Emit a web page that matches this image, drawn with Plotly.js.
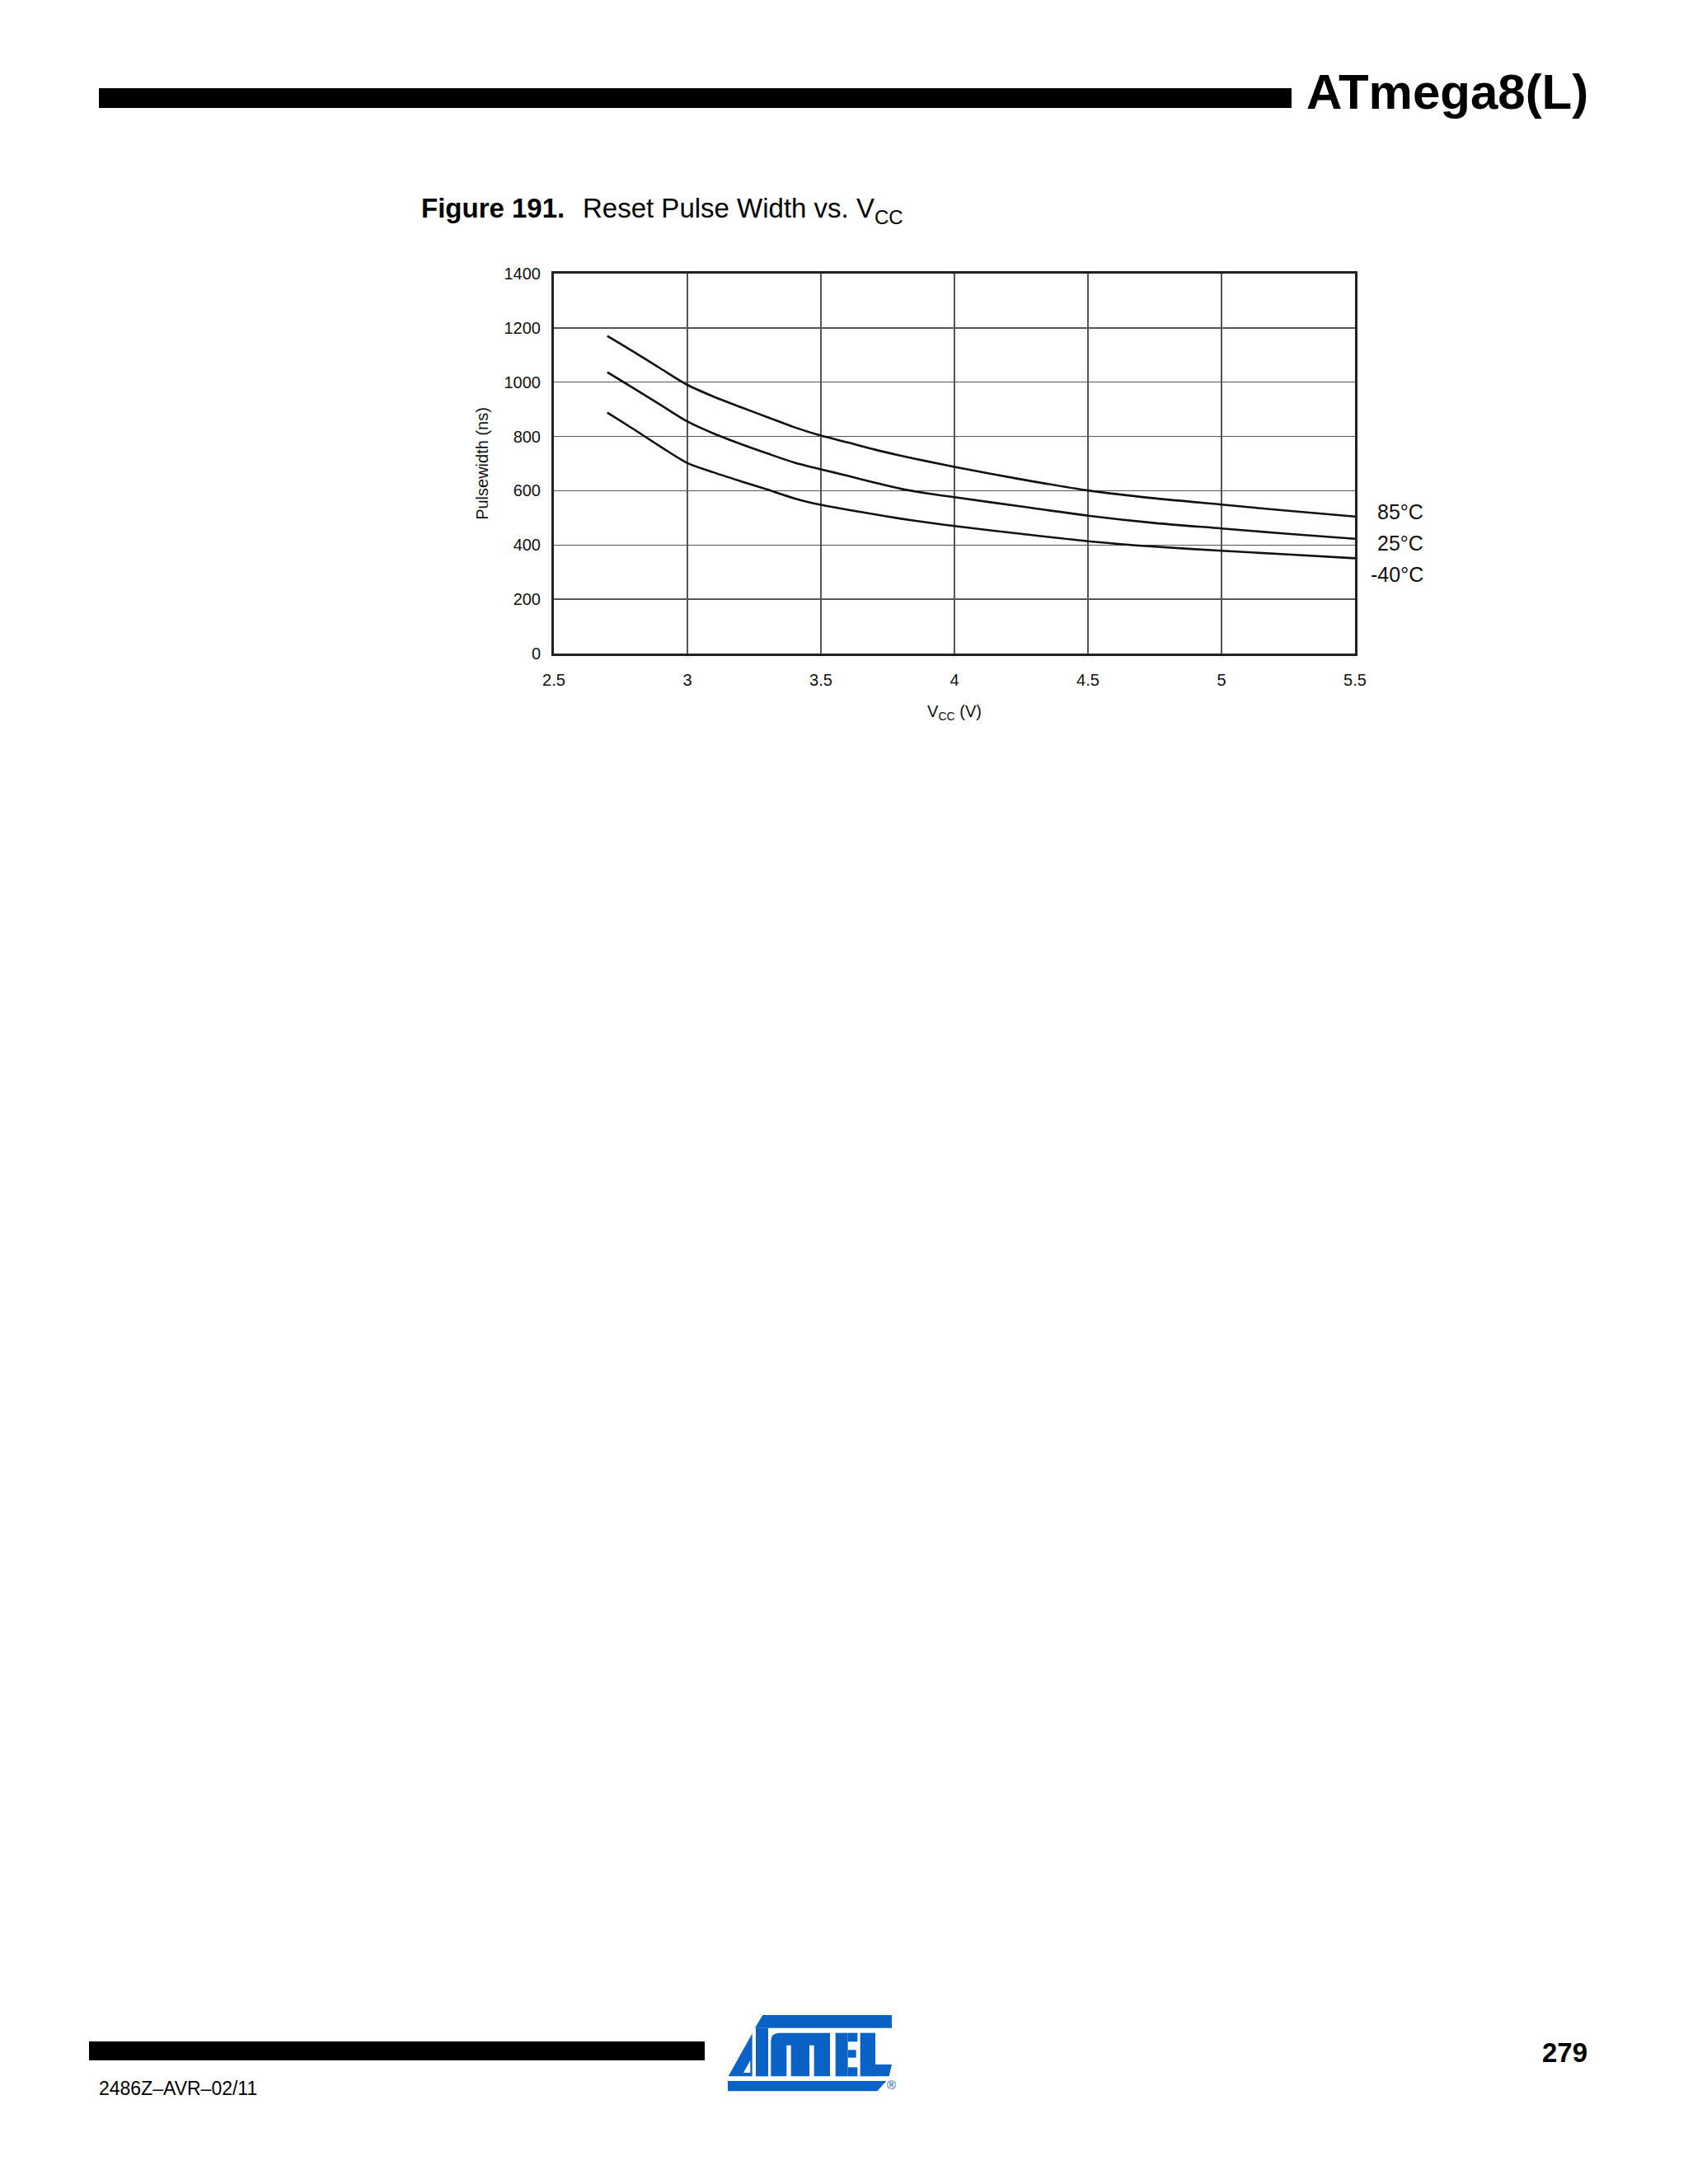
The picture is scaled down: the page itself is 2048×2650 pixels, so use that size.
<!DOCTYPE html>
<html>
<head>
<meta charset="utf-8">
<script src="https://cdn.plot.ly/plotly-3.0.1.min.js"></script>
<style>
  html, body { margin: 0; padding: 0; background: #fff; }
  #page { position: relative; width: 2048px; height: 2650px; overflow: hidden; font-family: "Liberation Sans", Arial, Helvetica, sans-serif; color: #000; }
  #chart { position: absolute; left: 0; top: 0; width: 2048px; height: 2650px; }
  .txt { position: absolute; white-space: nowrap; line-height: 1; }
  .bar { position: absolute; background: #000; }
</style>
</head>
<body>
<div id="page">
  <div id="chart"></div>
  <div class="bar" style="left:120px; top:107px; width:1447px; height:24px;"></div>
  <div class="txt" style="left:1585px; top:82px; font-size:60px; font-weight:bold;">ATmega8(L)</div>
  <div class="txt" style="left:511px; top:236px; font-size:33px; font-weight:bold;">Figure 191.</div>
  <div class="txt" style="left:707px; top:236px; font-size:33px;">Reset Pulse Width vs. V<span style="font-size:24px; position:relative; top:8px;">CC</span></div>
  <div class="bar" style="left:108px; top:2477px; width:747px; height:23px;"></div>
  <div class="txt" style="left:120px; top:2523px; font-size:23px;">2486Z–AVR–02/11</div>
  <div class="txt" style="left:1871px; top:2474px; font-size:33px; font-weight:bold;">279</div>
  <svg style="position:absolute; left:883px; top:2445px;" width="216" height="94" viewBox="398 735 648 282">
    <g fill="#0a62c6">
      <polygon points="525,735 995,735 995,782 497,782"/>
      <polygon points="487,800 487,958 400,958 488,800"/>
      <rect x="500" y="782" width="45" height="176"/>
      <path d="M555,958 L555,830 Q555,800 585,800 L770,800 L770,958 L712,958 L712,845 L695,845 L695,958 L628,958 L628,845 L612,845 L612,958 Z"/>
      <rect x="790" y="800" width="45" height="158"/>
      <rect x="835" y="800" width="35" height="32"/>
      <rect x="835" y="862" width="30" height="28"/>
      <rect x="835" y="925" width="35" height="33"/>
      <rect x="880" y="800" width="55" height="158"/>
      <polygon points="935,915 995,915 985,958 935,958"/>
      <polygon points="398,975 975,975 942,1012 398,1012"/>
    </g>
    <polygon points="455,945 480,900 480,945" fill="#fff"/>
  </svg>
  <div class="txt" style="left:1076px; top:2522px; font-size:15px; color:#0a62c6;">®</div>
</div>
<script>
// Data (Vcc in volts, pulse width in ns)
const vcc = [2.7, 2.8, 2.9, 3.0, 3.1, 3.2, 3.3, 3.4, 3.5, 3.6, 3.7, 3.8, 3.9, 4.0, 4.25, 4.5, 4.75, 5.0, 5.25, 5.5];
const pw85 = [1170, 1111, 1050, 990, 946, 908, 871, 834, 803, 778, 752, 729, 708, 688, 642, 601, 572, 549, 526, 505];
const pw25 = [1037, 977, 916, 855, 810, 772, 737, 704, 679, 655, 630, 607, 590, 576, 542, 508, 481, 461, 441, 423];
const pwm40 = [888, 826, 762, 702, 667, 635, 604, 572, 548, 530, 513, 497, 483, 470, 441, 414, 394, 379, 365, 351];
const seriesNames = ["85°C", "25°C", "-40°C"];
const labelY = [522, 407, 292];
const xTickVals = [2.5, 3, 3.5, 4, 4.5, 5, 5.5];
const xTickText = ["2.5", "3", "3.5", "4", "4.5", "5", "5.5"];
const yTickVals = [0, 200, 400, 600, 800, 1000, 1200, 1400];
const yTickText = ["0", "200", "400", "600", "800", "1000", "1200", "1400"];

const FONT = "Liberation Sans, Arial, Helvetica, sans-serif";
const series = [pw85, pw25, pwm40];
const traces = series.map((ys, i) => ({
  x: vcc, y: ys, name: seriesNames[i], type: "scatter", mode: "lines",
  line: { color: "#111", width: 2.6, shape: "spline", smoothing: 0.8 },
  hoverinfo: "skip", showlegend: false
}));

const annotations = seriesNames.map((n, i) => ({
  text: n, xref: "paper", yref: "y", x: 1.0875, y: labelY[i],
  xanchor: "right", yanchor: "middle", showarrow: false,
  font: { family: FONT, size: 25, color: "#111" }
}));

const layout = {
  width: 2048, height: 2650,
  margin: { l: 672, r: 404, t: 332, b: 1857, pad: 0 },
  paper_bgcolor: "#fff", plot_bgcolor: "#fff",
  showlegend: false,
  font: { family: FONT, color: "#111" },
  xaxis: {
    range: [2.5, 5.5], tickmode: "array", tickvals: xTickVals, ticktext: xTickText,
    showgrid: true, gridcolor: "#555", gridwidth: 1.5,
    showline: true, linecolor: "#222", linewidth: 3, mirror: true,
    zeroline: false, ticks: "", ticklabelstandoff: 12,
    tickfont: { family: FONT, size: 20, color: "#111" },
    title: { text: "V<sub>CC</sub> (V)", font: { family: FONT, size: 20, color: "#111" }, standoff: 21 },
    automargin: false, fixedrange: true
  },
  yaxis: {
    range: [0, 1400], tickmode: "array", tickvals: yTickVals, ticktext: yTickText,
    showgrid: true, gridcolor: "#555", gridwidth: 1.5,
    showline: true, linecolor: "#222", linewidth: 3, mirror: true,
    zeroline: false, ticks: "", ticklabelstandoff: 9,
    tickfont: { family: FONT, size: 20, color: "#111" },
    title: { text: "Pulsewidth (ns)", font: { family: FONT, size: 20, color: "#111" }, standoff: 14 },
    automargin: false, fixedrange: true
  },
  annotations: annotations
};

Plotly.newPlot("chart", traces, layout, { staticPlot: true, displayModeBar: false });
</script>
</body>
</html>
